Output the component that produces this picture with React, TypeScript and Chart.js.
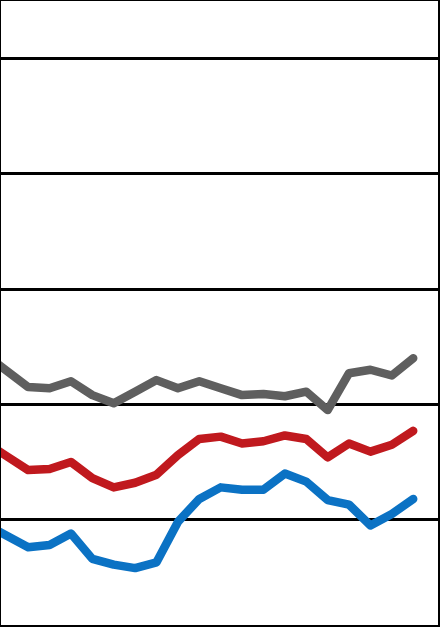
import { useEffect, useRef } from 'react';
import { Chart, registerables, ChartConfiguration } from 'chart.js';

Chart.register(...registerables);

// the picture is a crop: the first point sits just past the left edge
const categories = [-2, -1, 0, 1, 2, 3, 4, 5, 6, 7, 8, 9, 10, 11, 12, 13, 14, 15, 16, 17, 18];

const grayValues = [24.3, 22.9, 21.5, 21.4, 22.0, 20.8, 20.1, 21.1, 22.1, 21.4, 22.0, 21.4, 20.8, 20.9, 20.7, 21.1, 19.5, 22.7, 23.0, 22.5, 24.0];
const redValues = [16.7, 15.5, 14.3, 14.4, 15.0, 13.6, 12.8, 13.2, 13.9, 15.6, 17.0, 17.2, 16.6, 16.8, 17.3, 17.0, 15.4, 16.6, 15.9, 16.5, 17.7];
const blueValues = [9.6, 8.6, 7.6, 7.8, 8.8, 6.6, 6.1, 5.8, 6.3, 9.8, 11.8, 12.8, 12.6, 12.6, 14.0, 13.3, 11.7, 11.3, 9.5, 10.5, 11.8];

const yMin = 0;
const yMax = 60;
const yStep = 10;

const toPoints = (values: number[]) => categories.map((x, i) => ({ x, y: values[i] }));

const LineChart = () => {
    const chartRef = useRef<Chart | null>(null);
    const canvasRef = useRef<HTMLCanvasElement | null>(null);

    useEffect(() => {
        if (!canvasRef.current) return;
        if (chartRef.current) chartRef.current.destroy();
        const ctx = canvasRef.current.getContext('2d');
        if (!ctx) return;

        const lineStyle = {
            borderWidth: 8.5,
            borderCapStyle: 'round' as const,
            borderJoinStyle: 'round' as const,
            pointRadius: 0,
            tension: 0,
            fill: false,
        };

        const config: ChartConfiguration<'line'> = {
            type: 'line',
            data: {
                datasets: [
                    { data: toPoints(grayValues), borderColor: '#5f5f5f', ...lineStyle },
                    { data: toPoints(redValues), borderColor: '#c0191e', ...lineStyle },
                    { data: toPoints(blueValues), borderColor: '#0b72c4', ...lineStyle },
                ],
            },
            options: {
                animation: false,
                responsive: true,
                maintainAspectRatio: false,
                layout: { padding: 0 },
                scales: {
                    x: {
                        type: 'linear',
                        min: -3,
                        max: 20,
                        display: false,
                    },
                    y: {
                        min: yMin,
                        max: yMax,
                        ticks: { stepSize: yStep, display: false },
                        grid: { color: '#000', lineWidth: 3, drawTicks: false },
                        border: { display: false },
                    },
                },
                plugins: {
                    legend: { display: false },
                    tooltip: { enabled: false },
                },
            },
        };

        chartRef.current = new Chart(ctx, config);

        return () => {
            if (chartRef.current) {
                chartRef.current.destroy();
                chartRef.current = null;
            }
        };
    }, []);

    return (
        <div style={{ position: 'absolute', left: 0, top: 0, width: 440, height: 627, overflow: 'hidden', background: '#fff' }}>
            <div style={{ position: 'absolute', left: -35.9, top: -57, width: 492, height: 692 }}>
                <canvas ref={canvasRef}></canvas>
            </div>
            <div
                style={{
                    position: 'absolute',
                    inset: 0,
                    boxSizing: 'border-box',
                    borderTop: '1px solid #000',
                    borderLeft: '1px solid #000',
                    borderRight: '2px solid #000',
                    borderBottom: '2px solid #000',
                    pointerEvents: 'none',
                }}
            />
        </div>
    );
};

export default function App() {
    return <LineChart />;
}
